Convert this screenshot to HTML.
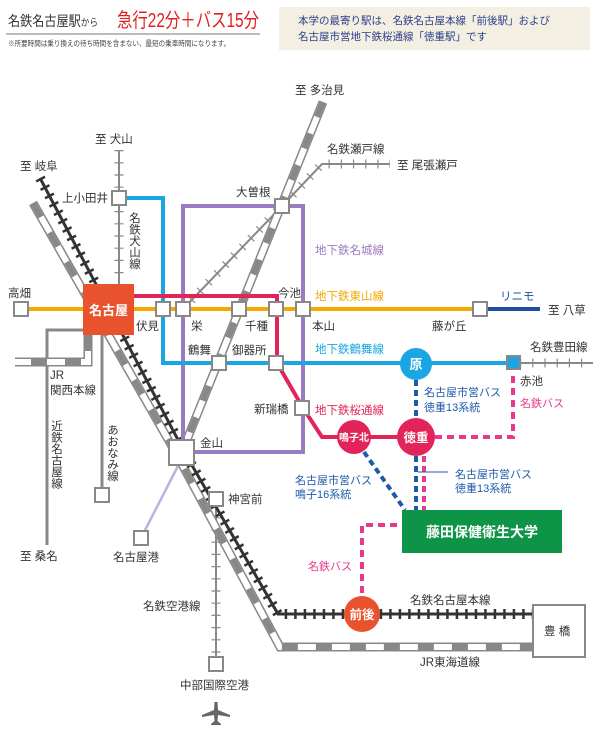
<!DOCTYPE html>
<html><head><meta charset="utf-8"><style>
html,body{margin:0;padding:0;background:#fff;}
svg{display:block;font-family:"Liberation Sans","Noto Sans CJK JP",sans-serif;}
</style></head><body>
<svg width="600" height="730" viewBox="0 0 600 730" xmlns="http://www.w3.org/2000/svg">
<!-- header -->
<text x="8" y="26" font-size="14" fill="#333" textLength="90" lengthAdjust="spacingAndGlyphs">名鉄名古屋駅<tspan font-size="10">から</tspan></text>
<text x="117" y="27" font-size="20" fill="#e0201f" textLength="142" lengthAdjust="spacingAndGlyphs">急行22分＋バス15分</text>
<line x1="6" y1="34" x2="260" y2="34" stroke="#777" stroke-width="1"/>
<text x="8" y="46" font-size="7.5" fill="#444" textLength="222" lengthAdjust="spacingAndGlyphs">※所要時間は乗り換えの待ち時間を含まない、最短の乗車時間になります。</text>
<rect x="279" y="7" width="311" height="43" fill="#f3efe2"/>
<text x="298" y="24" font-size="10.5" fill="#2c3f8c">本学の最寄り駅は、名鉄名古屋本線「前後駅」および</text>
<text x="298" y="40" font-size="10.5" fill="#2c3f8c">名古屋市営地下鉄桜通線「徳重駅」です</text>

<!-- Kintetsu / Aonami -->
<path d="M85,330 L47,330 L47,545" fill="none" stroke="#888" stroke-width="3"/>
<path d="M102,335 L102,495" fill="none" stroke="#888" stroke-width="3"/>
<!-- Nagoya port line -->
<path d="M180,462 L141,538" stroke="#c0aee0" stroke-width="2.5"/>

<!-- tick lines (gray) -->
<g stroke="#888" fill="none">
<path d="M119,150 L119,285 M216,499 L216,664 M520,363 L593,363 M183,309 L282,206 L322,164 L390,164" stroke-width="2"/>
<path d="M119,150 L119,285 M216,505 L216,664 M520,363 L593,363 M183,309 L282,206 L322,164 L390,164" stroke-width="9" stroke-dasharray="1.2 11"/>
</g>

<!-- JR lines -->
<g fill="none" stroke-linejoin="miter">
<path d="M33,203 L177,455 L280,647 L535,647" stroke="#888" stroke-width="9"/>
<path d="M33,203 L177,455 L280,647 L535,647" stroke="#fff" stroke-width="6"/>
<path d="M33,203 L177,455 L280,647 L535,647" stroke="#888" stroke-width="6" stroke-dasharray="16 18"/>
<path d="M323,102 L182,452" stroke="#888" stroke-width="9"/>
<path d="M323,102 L182,452" stroke="#fff" stroke-width="6"/>
<path d="M323,102 L182,452" stroke="#888" stroke-width="6" stroke-dasharray="16 18"/>
<path d="M88,335 L88,362 L15,362" stroke="#888" stroke-width="9"/>
<path d="M88,335 L88,362 L15,362" stroke="#fff" stroke-width="6"/>
<path d="M88,335 L88,362 L15,362" stroke="#888" stroke-width="6" stroke-dasharray="16 18"/>
</g>

<!-- Meitetsu main -->
<path d="M40,178 L186,455 L278,614 L535,614" fill="none" stroke="#333" stroke-width="3"/>
<path d="M40,178 L186,455 L278,614 L535,614" fill="none" stroke="#333" stroke-width="10" stroke-dasharray="2.5 7"/>

<!-- subway -->
<rect x="183" y="206" width="120" height="246" fill="none" stroke="#9b7bbf" stroke-width="4"/>
<path d="M119,198 L163,198 L163,363 L513,363" fill="none" stroke="#19a6e3" stroke-width="4"/>
<path d="M21,309 L480,309" stroke="#f5a800" stroke-width="4"/>
<path d="M480,309 L540,309" stroke="#1d4f9e" stroke-width="4"/>
<path d="M133,296 L277,296 L277,363 L303,408 L322,437 L416,437" fill="none" stroke="#e2245a" stroke-width="4"/>

<!-- bus dashed -->
<g fill="none" stroke-width="4">
<path d="M416,380 L416,420" stroke="#1d5aa8" stroke-dasharray="6 4"/>
<path d="M416,456 L416,510" stroke="#1d5aa8" stroke-dasharray="6 4"/>
<path d="M364,452 L405,510" stroke="#1d5aa8" stroke-dasharray="6 4"/>
<path d="M424,456 L424,510" stroke="#e8398e" stroke-dasharray="6 4"/>
<path d="M435,437 L513,437 L513,372" stroke="#e8398e" stroke-dasharray="7 5"/>
<path d="M397,525 L362,525 L362,595" stroke="#e8398e" stroke-dasharray="7 5"/>
</g>
<line x1="418" y1="472" x2="448" y2="472" stroke="#1d5aa8" stroke-width="1"/>

<!-- stations -->
<g fill="#fff" stroke="#888" stroke-width="2">
<rect x="14" y="302" width="14" height="14"/>
<rect x="156" y="302" width="14" height="14"/>
<rect x="176" y="302" width="14" height="14"/>
<rect x="232" y="302" width="14" height="14"/>
<rect x="269" y="302" width="14" height="14"/>
<rect x="296" y="302" width="14" height="14"/>
<rect x="473" y="302" width="14" height="14"/>
<rect x="212" y="356" width="14" height="14"/>
<rect x="269" y="356" width="14" height="14"/>
<rect x="295" y="401" width="14" height="14"/>
<rect x="112" y="191" width="14" height="14"/>
<rect x="275" y="199" width="14" height="14"/>
<rect x="95" y="488" width="14" height="14"/>
<rect x="134" y="531" width="14" height="14"/>
<rect x="209" y="492" width="14" height="14"/>
<rect x="209" y="657" width="14" height="14"/>
<rect x="169" y="440" width="25" height="25"/>
<rect x="533" y="605" width="52" height="52"/>
</g>
<rect x="507" y="356" width="13" height="13" fill="#19a6e3" stroke="#888" stroke-width="2"/>
<rect x="83" y="284" width="51" height="51" fill="#e8532d"/>
<text x="108.5" y="315" font-size="13" fill="#fff" text-anchor="middle" font-weight="bold">名古屋</text>

<circle cx="416" cy="364" r="16" fill="#19a6e3"/>
<text x="416" y="369" font-size="13" fill="#fff" text-anchor="middle" font-weight="bold">原</text>
<circle cx="354" cy="437" r="17" fill="#e2245a"/>
<text x="354" y="441" font-size="10" fill="#fff" text-anchor="middle" font-weight="bold">鳴子北</text>
<circle cx="416" cy="437" r="19" fill="#e2245a"/>
<text x="416" y="442" font-size="12.5" fill="#fff" text-anchor="middle" font-weight="bold">徳重</text>
<circle cx="362" cy="614" r="18" fill="#e8532d"/>
<text x="362" y="619" font-size="12.5" fill="#fff" text-anchor="middle" font-weight="bold">前後</text>
<rect x="402" y="510" width="160" height="43" fill="#0d9447"/>
<text x="482" y="537" font-size="14" fill="#fff" text-anchor="middle" font-weight="bold">藤田保健衛生大学</text>

<!-- plane -->
<g fill="#666" transform="translate(216,712)">
<path d="M-1.5,-10 L1.5,-10 L2,-2 L14,3 L14,5 L2,3 L1.5,9 L5,12 L5,13 L-5,13 L-5,12 L-1.5,9 L-2,3 L-14,5 L-14,3 L-2,-2 Z"/>
</g>

<!-- labels -->
<g font-size="11.5" fill="#333">
<text x="295" y="94">至 多治見</text>
<text x="327" y="153">名鉄瀬戸線</text>
<text x="397" y="169">至 尾張瀬戸</text>
<text x="236" y="196">大曽根</text>
<text x="95" y="143">至 犬山</text>
<text x="20" y="170">至 岐阜</text>
<text x="62" y="202">上小田井</text>
<text x="8" y="297">高畑</text>
<text x="136" y="330">伏見</text>
<text x="191" y="330">栄</text>
<text x="245" y="330">千種</text>
<text x="278" y="297">今池</text>
<text x="312" y="330">本山</text>
<text x="432" y="330">藤が丘</text>
<text x="548" y="314">至 八草</text>
<text x="188" y="354">鶴舞</text>
<text x="232" y="354">御器所</text>
<text x="254" y="413">新瑞橋</text>
<text x="200" y="447">金山</text>
<text x="530" y="351">名鉄豊田線</text>
<text x="520" y="385">赤池</text>
<text x="50" y="379">JR</text>
<text x="50" y="394">関西本線</text>
<text x="20" y="560">至 桑名</text>
<text x="113" y="561">名古屋港</text>
<text x="228" y="503">神宮前</text>
<text x="143" y="610">名鉄空港線</text>
<text x="180" y="689">中部国際空港</text>
<text x="410" y="604">名鉄名古屋本線</text>
<text x="420" y="666">JR東海道線</text>
<text x="544" y="635">豊 橋</text>
</g>
<g font-size="11.5" fill="#333">
<text x="134" y="212" writing-mode="tb">名鉄犬山線</text>
<text x="56" y="420" writing-mode="tb">近鉄名古屋線</text>
<text x="112" y="424" writing-mode="tb">あおなみ線</text>
</g>
<g font-size="11.5">
<text x="315" y="254" fill="#9b7bbf">地下鉄名城線</text>
<text x="315" y="300" fill="#f5a800">地下鉄東山線</text>
<text x="500" y="300" fill="#1d4f9e">リニモ</text>
<text x="315" y="353" fill="#19a6e3">地下鉄鶴舞線</text>
<text x="315" y="414" fill="#e2245a">地下鉄桜通線</text>
<text x="520" y="407" fill="#e8398e" font-size="11">名鉄バス</text>
<text x="308" y="570" fill="#e8398e" font-size="11">名鉄バス</text>
</g>
<g font-size="11" fill="#1d5aa8">
<text x="424" y="396">名古屋市営バス</text>
<text x="424" y="411">徳重13系統</text>
<text x="455" y="478">名古屋市営バス</text>
<text x="455" y="492">徳重13系統</text>
<text x="295" y="484">名古屋市営バス</text>
<text x="295" y="498">鳴子16系統</text>
</g>
</svg>
</body></html>
